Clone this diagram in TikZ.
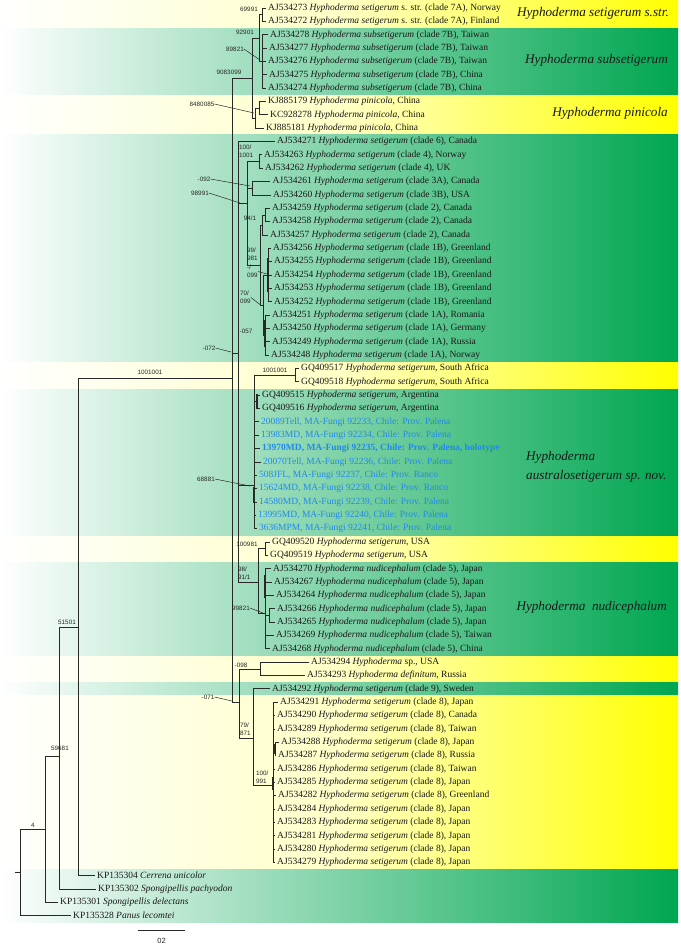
\documentclass[tikz,border=0pt]{standalone}
\usepackage{fontspec}
\setmainfont{Liberation Serif}
\newfontfamily\suppfont{Liberation Sans}
\definecolor{gbar}{RGB}{0,166,81}
\definecolor{ybar}{RGB}{255,255,0}
\definecolor{blu}{RGB}{33,137,235}
\definecolor{treec}{RGB}{40,40,40}
\newcommand{\Hset}{\textit{Hyphoderma setigerum}}
\newcommand{\Hsub}{\textit{Hyphoderma subsetigerum}}
\newcommand{\Hpin}{\textit{Hyphoderma pinicola}}
\newcommand{\Hnud}{\textit{Hyphoderma nudicephalum}}
\begin{document}
\begin{tikzpicture}[x=1pt,y=-1pt,
  br/.style={draw=treec,line width=0.75pt},
  thk/.style={draw=treec,line width=1.6pt},
  tx/.style={anchor=west,inner xsep=2.5pt,inner ysep=0pt,font=\fontsize{9.5}{10}\selectfont,text height=6.6pt,text depth=2pt,text=black!90},
  sp/.style={inner sep=0pt,font=\suppfont\fontsize{6.3}{7.8}\selectfont,text=black!85},
  spl/.style={sp,anchor=west,align=left},
  ld/.style={draw=treec,line width=0.5pt},
  big/.style={inner sep=0pt,font=\fontsize{13.2}{14}\selectfont\itshape,text=black!90},
  gband/.style={left color=white,right color=gbar},
  yband/.style={left color=white,right color=ybar,middle color=ybar!22}]
\useasboundingbox (0,0) rectangle (680,945);
% ---------- background bands
\shade[yband] (0,0) rectangle (678,28);
\shade[gband] (0,28) rectangle (678,95);
\shade[yband] (0,95) rectangle (678,134);
\shade[gband] (0,134) rectangle (678,362);
\shade[yband] (0,362) rectangle (678,389);
\shade[gband] (0,389) rectangle (678,536);
\shade[yband] (0,536) rectangle (678,562);
\shade[gband] (0,562) rectangle (678,656);
\shade[yband] (0,656) rectangle (678,682);
\shade[gband] (0,682) rectangle (678,695.5);
\shade[yband] (0,695.5) rectangle (678,869);
\shade[gband] (0,869) rectangle (678,922);
% ---------- clade labels
\node[big,anchor=east] (c1) at (669,13) {Hyphoderma setigerum s.str.};
\node[big,anchor=east] (c2) at (668,60) {Hyphoderma subsetigerum};
\node[big,anchor=east] (c3) at (668,113) {Hyphoderma pinicola};
\node[big,anchor=west] (c4a) at (526,457) {Hyphoderma};
\node[big,anchor=west] (c4b) at (526,476) {australosetigerum sp. nov.};
\node[big,anchor=east] (c5) at (667,607) {Hyphoderma\ \ nudicephalum};
% ---------- tips
\node[tx] (t1) at (265.5,8.0) {AJ534273 \Hset{} s. str. (clade 7A), Norway};
\node[tx] (t2) at (265.5,21.35) {AJ534272 \Hset{} s. str. (clade 7A), Finland};
\node[tx] (t3) at (267.5,34.7) {AJ534278 \Hsub{} (clade 7B), Taiwan};
\node[tx] (t4) at (266.5,48.05) {AJ534277 \Hsub{} (clade 7B), Taiwan};
\node[tx] (t5) at (265.5,61.4) {AJ534276 \Hsub{} (clade 7B), Taiwan};
\node[tx] (t6) at (266.5,74.75) {AJ534275 \Hsub{} (clade 7B), China};
\node[tx] (t7) at (265.5,88.1) {AJ534274 \Hsub{} (clade 7B), China};
\node[tx] (t8) at (265.5,101.45) {KJ885179 \Hpin, China};
\node[tx] (t9) at (267.5,114.8) {KC928278 \Hpin, China};
\node[tx] (t10) at (263.5,128.15) {KJ885181 \Hpin, China};
\node[tx] (t11) at (274.5,141.5) {AJ534271 \Hset{} (clade 6), Canada};
\node[tx] (t12) at (261.5,154.85) {AJ534263 \Hset{} (clade 4), Norway};
\node[tx] (t13) at (262.5,168.2) {AJ534262 \Hset{} (clade 4), UK};
\node[tx] (t14) at (270,181.55) {AJ534261 \Hset{} (clade 3A), Canada};
\node[tx] (t15) at (270.5,194.9) {AJ534260 \Hset{} (clade 3B), USA};
\node[tx] (t16) at (269.5,208.25) {AJ534259 \Hset{} (clade 2), Canada};
\node[tx] (t17) at (269.5,221.6) {AJ534258 \Hset{} (clade 2), Canada};
\node[tx] (t18) at (267.5,234.95) {AJ534257 \Hset{} (clade 2), Canada};
\node[tx] (t19) at (270.5,248.3) {AJ534256 \Hset{} (clade 1B), Greenland};
\node[tx] (t20) at (271.5,261.65) {AJ534255 \Hset{} (clade 1B), Greenland};
\node[tx] (t21) at (271.5,275.0) {AJ534254 \Hset{} (clade 1B), Greenland};
\node[tx] (t22) at (271.5,288.35) {AJ534253 \Hset{} (clade 1B), Greenland};
\node[tx] (t23) at (271.5,301.7) {AJ534252 \Hset{} (clade 1B), Greenland};
\node[tx] (t24) at (269.5,315.05) {AJ534251 \Hset{} (clade 1A), Romania};
\node[tx] (t25) at (269.5,328.4) {AJ534250 \Hset{} (clade 1A), Germany};
\node[tx] (t26) at (269.5,341.75) {AJ534249 \Hset{} (clade 1A), Russia};
\node[tx] (t27) at (268.5,355.1) {AJ534248 \Hset{} (clade 1A), Norway};
\node[tx] (t28) at (298.5,368.45) {GQ409517 \Hset, South Africa};
\node[tx] (t29) at (298.5,381.8) {GQ409518 \Hset, South Africa};
\node[tx] (t30) at (259.5,395.15) {GQ409515 \Hset, Argentina};
\node[tx] (t31) at (259.5,408.5) {GQ409516 \Hset, Argentina};
\node[tx,text=blu] (t32) at (258.5,421.85) {20089Tell, MA-Fungi 92233, Chile: Prov. Palena};
\node[tx,text=blu] (t33) at (258.5,435.2) {13983MD, MA-Fungi 92234, Chile: Prov. Palena};
\node[tx,text=blu] (t34) at (259.5,448.55) {\bfseries 13970MD, MA-Fungi 92235, Chile: Prov. Palena, holotype};
\node[tx,text=blu] (t35) at (260.5,461.9) {20070Tell, MA-Fungi 92236, Chile: Prov. Palena};
\node[tx,text=blu] (t36) at (256.5,475.25) {508JFL, MA-Fungi 92237, Chile: Prov. Ranco};
\node[tx,text=blu] (t37) at (256.5,488.6) {15624MD, MA-Fungi 92238, Chile: Prov. Ranco};
\node[tx,text=blu] (t38) at (256.5,501.95) {14580MD, MA-Fungi 92239, Chile: Prov. Palena};
\node[tx,text=blu] (t39) at (255.5,515.3) {13995MD, MA-Fungi 92240, Chile: Prov. Palena};
\node[tx,text=blu] (t40) at (256.5,528.65) {3636MPM, MA-Fungi 92241, Chile: Prov. Palena};
\node[tx] (t41) at (269.5,542.0) {GQ409520 \Hset, USA};
\node[tx] (t42) at (267.5,555.35) {GQ409519 \Hset, USA};
\node[tx] (t43) at (270.5,568.7) {AJ534270 \Hnud{} (clade 5), Japan};
\node[tx] (t44) at (271.5,582.05) {AJ534267 \Hnud{} (clade 5), Japan};
\node[tx] (t45) at (273.5,595.4) {AJ534264 \Hnud{} (clade 5), Japan};
\node[tx] (t46) at (274.5,608.75) {AJ534266 \Hnud{} (clade 5), Japan};
\node[tx] (t47) at (274.5,622.1) {AJ534265 \Hnud{} (clade 5), Japan};
\node[tx] (t48) at (273.5,635.45) {AJ534269 \Hnud{} (clade 5), Taiwan};
\node[tx] (t49) at (269.5,648.8) {AJ534268 \Hnud{} (clade 5), China};
\node[tx] (t50) at (308.5,662.15) {AJ534294 \textit{Hyphoderma} sp., USA};
\node[tx] (t51) at (304.5,675.5) {AJ534293 \textit{Hyphoderma definitum}, Russia};
\node[tx] (t52) at (269.5,688.85) {AJ534292 \Hset{} (clade 9), Sweden};
\node[tx] (t53) at (277.5,702.2) {AJ534291 \Hset{} (clade 8), Japan};
\node[tx] (t54) at (274.5,715.55) {AJ534290 \Hset{} (clade 8), Canada};
\node[tx] (t55) at (274.5,728.9) {AJ534289 \Hset{} (clade 8), Taiwan};
\node[tx] (t56) at (278.5,742.25) {AJ534288 \Hset{} (clade 8), Japan};
\node[tx] (t57) at (275.5,755.6) {AJ534287 \Hset{} (clade 8), Russia};
\node[tx] (t58) at (274.5,768.95) {AJ534286 \Hset{} (clade 8), Taiwan};
\node[tx] (t59) at (274.5,782.3) {AJ534285 \Hset{} (clade 8), Japan};
\node[tx] (t60) at (275.5,795.65) {AJ534282 \Hset{} (clade 8), Greenland};
\node[tx] (t61) at (274.5,809.0) {AJ534284 \Hset{} (clade 8), Japan};
\node[tx] (t62) at (274.5,822.35) {AJ534283 \Hset{} (clade 8), Japan};
\node[tx] (t63) at (274.5,835.7) {AJ534281 \Hset{} (clade 8), Japan};
\node[tx] (t64) at (274.5,849.05) {AJ534280 \Hset{} (clade 8), Japan};
\node[tx] (t65) at (274.5,862.4) {AJ534279 \Hset{} (clade 8), Japan};
\node[tx] (t66) at (94.5,875.75) {KP135304 \textit{Cerrena unicolor}};
\node[tx] (t67) at (95.5,889.1) {KP135302 \textit{Spongipellis pachyodon}};
\node[tx] (t68) at (57.5,902.45) {KP135301 \textit{Spongipellis delectans}};
\node[tx] (t69) at (70.5,915.8) {KP135328 \textit{Panus lecomtei}};
% ---------- internal nodes
\coordinate (nS) at (262,14.7);
\coordinate (nSub) at (262,61.4);
\coordinate (n929) at (259,38);
\coordinate (nPinIn) at (259,108.1);
\coordinate (nPin) at (255,118);
\coordinate (n908) at (252,78);
\coordinate (nBack) at (232,378);
\coordinate (n072) at (238,353);
\coordinate (n989) at (247,203);
\coordinate (nC4) at (259,161.5);
\coordinate (nC3) at (252,188.2);
\coordinate (n99) at (260,265);
\coordinate (nC2) at (262,224.9);
\coordinate (nC2in) at (265,214.9);
\coordinate (nC1) at (263,305);
\coordinate (n1B) at (268,275);
\coordinate (n1A) at (265,335);
\coordinate (nAus) at (254,485);
\coordinate (nSA) at (295,375.1);
\coordinate (nArg) at (257,401.8);
\coordinate (n9891) at (258,582);
\coordinate (nUSA) at (265,548.7);
\coordinate (nNud) at (265,613);
\coordinate (nNudIn) at (269,615.4);
\coordinate (n071) at (239,702);
\coordinate (n098) at (260,669);
\coordinate (n79) at (253,738);
\coordinate (nC8) at (273,785);
\coordinate (nC8in) at (275,748.9);
\coordinate (nX3) at (78,627);
\coordinate (nX2) at (59,756);
\coordinate (nX1) at (45,829);
\coordinate (nRoot) at (20,872);
\coordinate (nStub) at (15,872);
% ---------- edges
\draw[br] (nStub) -- (nRoot);
\draw[br] (nRoot) |- (nX1); \draw[br] (nRoot) |- (t69.west);
\draw[br] (nX1) |- (nX2); \draw[br] (nX1) |- (t68.west);
\draw[br] (nX2) |- (nX3); \draw[br] (nX2) |- (t67.west);
\draw[br] (nX3) |- (nBack); \draw[br] (nX3) |- (t66.west);
\draw[br] (nBack) |- (n908); \draw[br] (nBack) |- (n072); \draw[br] (nBack) |- (n071);
\draw[br] (n908) |- (n929); \draw[br] (n908) |- (nPin);
\draw[br] (n929) |- (nS); \draw[br] (n929) |- (nSub);
\foreach \i in {1,2} \draw[br] (nS) |- (t\i.west);
\foreach \i in {3,...,7} \draw[br] (nSub) |- (t\i.west);
\draw[br] (nPin) |- (nPinIn); \draw[br] (nPin) |- (t10.west);
\foreach \i in {8,9} \draw[br] (nPinIn) |- (t\i.west);
\draw[br] (n072) |- (t11.west); \draw[br] (n072) |- (n989);
\draw[br] (n072) |- (nAus); \draw[br] (n072) |- (n9891);
\draw[br] (n989) |- (nC4); \draw[br] (n989) |- (nC3); \draw[br] (n989) |- (n99);
\foreach \i in {12,13} \draw[br] (nC4) |- (t\i.west);
\foreach \i in {14,15} \draw[br] (nC3) |- (t\i.west);
\draw[br] (n99) |- (nC2); \draw[br] (n99) |- (nC1);
\draw[br] (nC2) |- (nC2in); \draw[br] (nC2) |- (t18.west);
\foreach \i in {16,17} \draw[br] (nC2in) |- (t\i.west);
\draw[br] (nC1) |- (n1B); \draw[br] (nC1) |- (n1A);
\foreach \i in {19,...,23} \draw[br] (n1B) |- (t\i.west);
\foreach \i in {24,...,27} \draw[br] (n1A) |- (t\i.west);
\draw[br] (nAus) |- (nSA); \draw[br] (nAus) |- (nArg);
\foreach \i in {32,...,40} \draw[br] (nAus) |- (t\i.west);
\foreach \i in {28,29} \draw[br] (nSA) |- (t\i.west);
\foreach \i in {30,31} \draw[br] (nArg) |- (t\i.west);
\draw[br] (n9891) |- (nUSA); \draw[br] (n9891) |- (nNud);
\foreach \i in {41,42} \draw[br] (nUSA) |- (t\i.west);
\foreach \i in {43,44,45,48,49} \draw[br] (nNud) |- (t\i.west);
\draw[br] (nNud) |- (nNudIn);
\foreach \i in {46,47} \draw[br] (nNudIn) |- (t\i.west);
\draw[br] (n071) |- (n098); \draw[br] (n071) |- (n79);
\foreach \i in {50,51} \draw[br] (n098) |- (t\i.west);
\draw[br] (n79) |- (t52.west); \draw[br] (n79) |- (nC8);
\foreach \i in {53,54,55,58,59,60,61,62,63,64,65} \draw[br] (nC8) |- (t\i.west);
\draw[br] (nC8) |- (nC8in);
\foreach \i in {56,57} \draw[br] (nC8in) |- (t\i.west);
% thick overlapping segments
\draw[thk] (268,258) -- (268,292);
\draw[thk] (265,320) -- (265,347);
\draw[thk] (257,394) -- (257,409);
\draw[thk] (254,487) -- (254,503);
\draw[thk] (265,575) -- (265,598);
\draw[thk] (273,777) -- (273,790);
\draw[thk] (275,744) -- (275,754);
% ---------- support values
\node[sp] (s1) at (249,9) {69991};
\node[sp] (s2) at (245,32) {92901};
\node[sp] (s3) at (235,49) {89821};
\node[sp] (s4) at (229,72) {9083099};
\node[sp] (s5) at (202,104) {8480085};
\node[spl] (s6) at (239,151.5) {100/\\1001};
\node[sp] (s7) at (204,179) {-092};
\node[sp] (s8) at (200,193) {98991};
\node[sp] (s9) at (250,218) {94/1};
\node[spl] (s10) at (247,254) {99/\\981};
\node[spl] (s11) at (247,271.5) {-/\\099};
\node[spl] (s12) at (240,297.5) {70/\\099};
\node[sp] (s13) at (246,331) {-057};
\node[sp] (s14) at (209,348) {-072};
\node[sp] (s15) at (150,372) {1001001};
\node[sp] (s16) at (275,370) {1001001};
\node[sp] (s17) at (206,479) {68881};
\node[sp] (s18) at (247,544) {100981};
\node[spl] (s19) at (238,573) {98/\\91/1};
\node[sp] (s20) at (241,608) {99821};
\node[sp] (s21) at (241,665) {-098};
\node[sp] (s22) at (208,697) {-071};
\node[spl] (s23) at (240,729) {79/\\871};
\node[spl] (s24) at (256,777) {100/\\991};
\node[sp] (s25) at (67,622) {51501};
\node[sp] (s26) at (60,748) {59681};
\node[sp] (s27) at (33,825) {4};
% leaders
\draw[ld] (s3.east) -- (260,60);
\draw[ld] (s5.east) -- (254,113);
\draw[ld] (s7.east) -- (250,186);
\draw[ld] (s8.east) -- (240,203);
\draw[ld] (s11.east) -- (267,274);
\draw[ld] (s12.east) -- (262,306);
\draw[ld] (s14.east) -- (231,352);
\draw[ld] (s17.east) -- (250,486);
\draw[ld] (s20.east) -- (263,613);
\draw[ld] (s22.east) -- (232,701);
% ---------- scale bar
\coordinate (sb1) at (138,930);
\coordinate (sb2) at (185,930);
\draw[br] (sb1) -- (sb2);
\node[sp,font=\suppfont\fontsize{7.5}{8}\selectfont] (sbl) at (161.5,941) {02};
\end{tikzpicture}
\end{document}
